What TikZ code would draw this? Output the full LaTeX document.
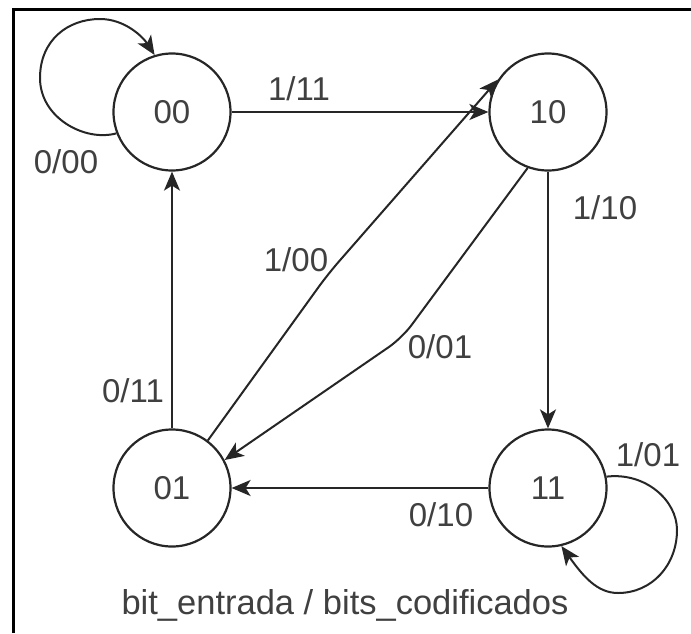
\documentclass[tikz,border=0pt]{standalone}
\usepackage{fontspec}
\setmainfont{Liberation Sans}
\usetikzlibrary{arrows.meta}
\begin{document}
\begin{tikzpicture}[x=1pt,y=-1pt,
  state/.style={circle,draw=black!85,line width=2.2pt,minimum size=117pt,inner sep=0pt,
    font=\fontsize{33}{39}\selectfont,text=black!75},
  lbl/.style={font=\fontsize{33}{39}\selectfont,text=black!75,inner sep=0pt},
  arr/.style={draw=black!85,line width=2pt,
    -{Stealth[length=19pt,width=16pt,inset=5pt]}},
  frame/.style={draw=black,line width=3pt}]
\useasboundingbox (0,0) rectangle (691,633);
% outer frame (top and left edges)
\draw[frame] (13,633) -- (13,9.5) -- (691,9.5);

% states
\node[state] (n00) at (172,112) {00};
\node[state] (n10) at (548,112) {10};
\node[state] (n01) at (172,488) {01};
\node[state] (n11) at (548,488) {11};

% straight transitions
\draw[arr] (n00) -- (n10);
\draw[arr] (n10) -- (n11);
\draw[arr] (n11) -- (n01);
\draw[arr] (n01) -- (n00);

% diagonal transitions with one bend
\draw[arr,rounded corners=16pt] (n01.53) -- (328,274) -- (n10.147);
\draw[arr,rounded corners=16pt] (n10.250) -- (402,338) -- (n01.28);

% self loops
\draw[arr] (n00.201) .. controls (85,142) and (40,118) .. (40,78)
  .. controls (40,40) and (68,19) .. (100,19)
  .. controls (125,19) and (143,37) .. (n00.107);
\draw[arr] (n11.11) .. controls (645,472) and (677,500) .. (677,530)
  .. controls (677,565) and (652,593) .. (618,593)
  .. controls (597,593) and (583,576) .. (n11.283);

% transition labels
\node[lbl] (t0000) at (66,162) {0/00};
\node[lbl] (t1011) at (299,89) {1/11};
\node[lbl] (t1010) at (605,208) {1/10};
\node[lbl] (t1000) at (296,260) {1/00};
\node[lbl] (t0001) at (440,347) {0/01};
\node[lbl] (t0011) at (133,391) {0/11};
\node[lbl] (t0010) at (441,515) {0/10};
\node[lbl] (t1001) at (648,455) {1/01};

% legend
\node[lbl,font=\fontsize{34.5}{41}\selectfont,anchor=base] (legend) at (345,614)
  {bit\_entrada / bits\_codificados};
\end{tikzpicture}
\end{document}
